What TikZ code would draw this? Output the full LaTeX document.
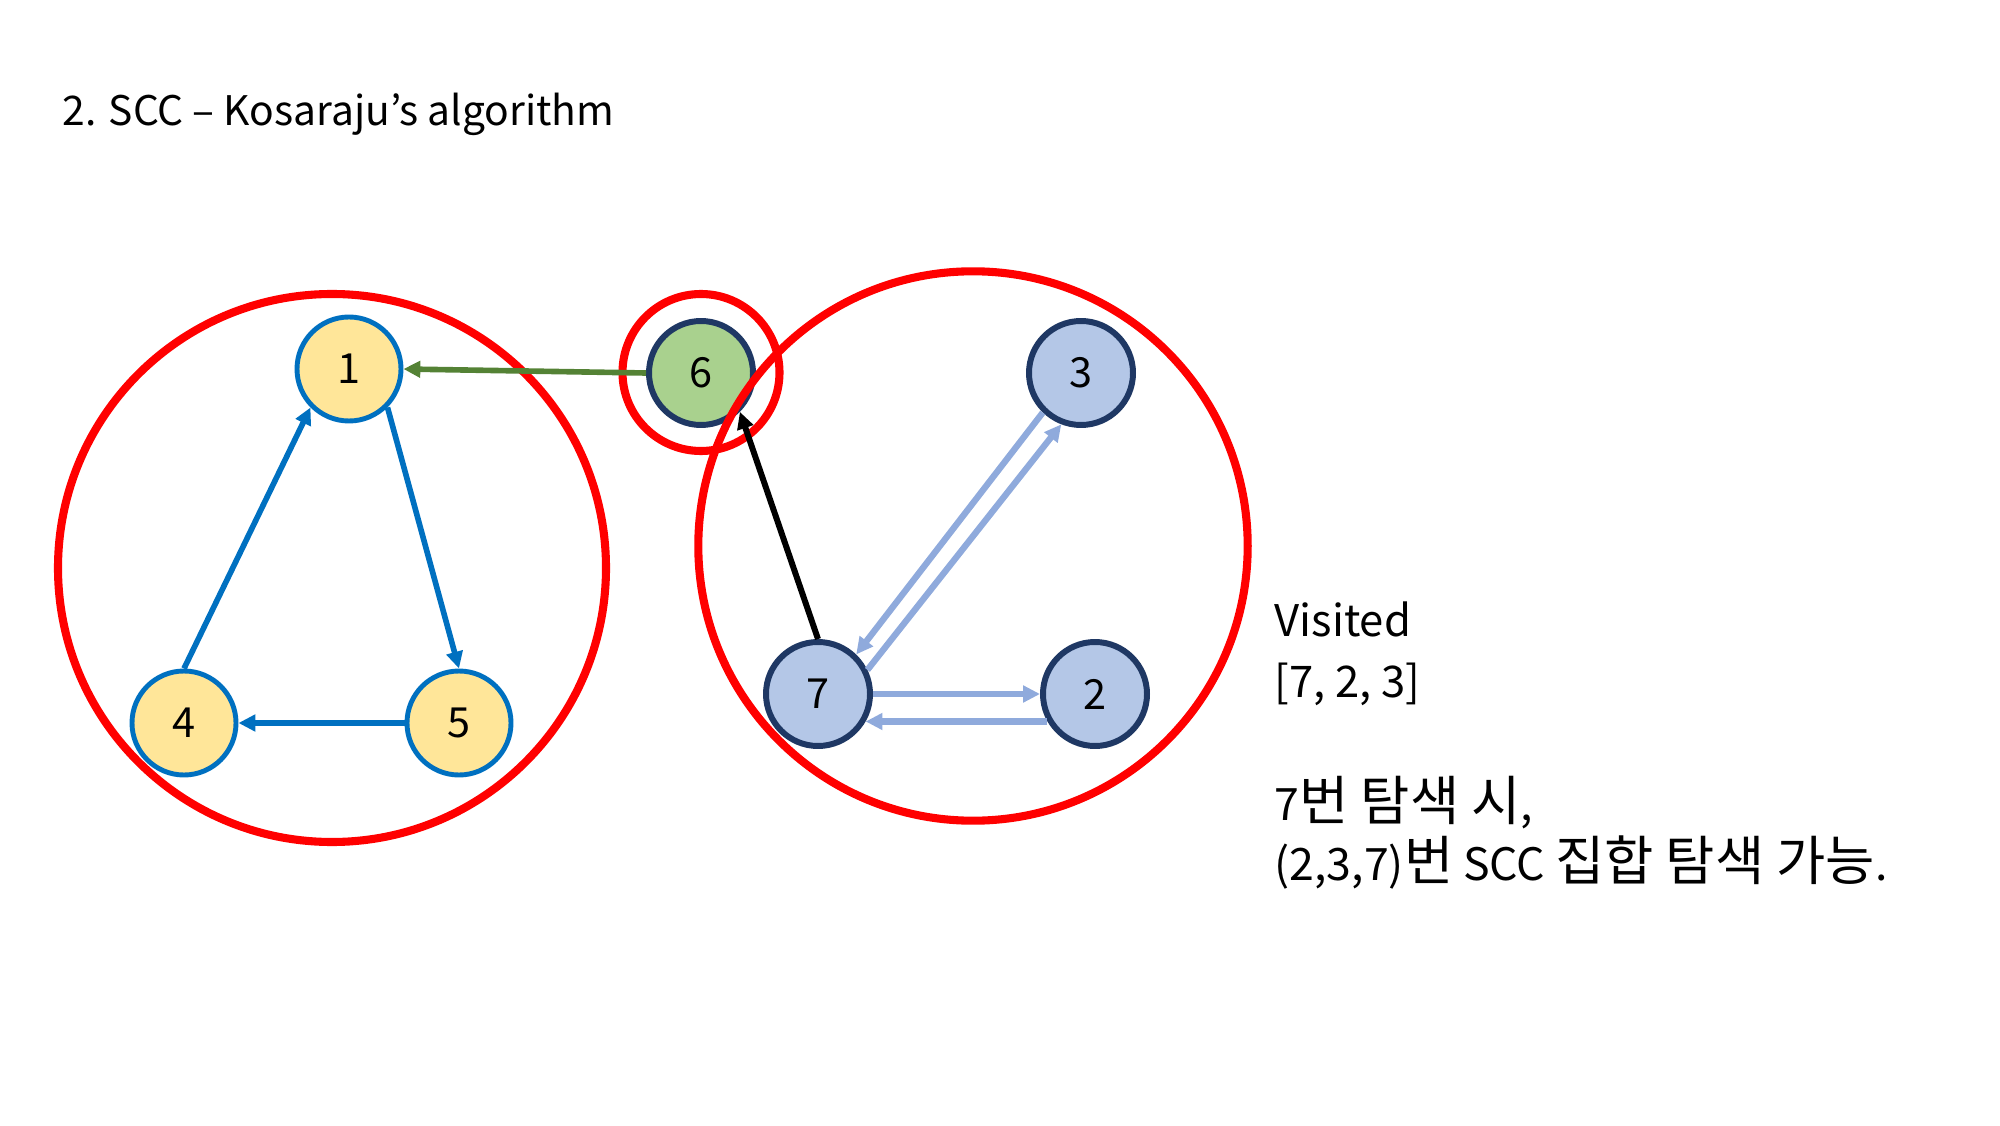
\documentclass[tikz,border=0pt]{standalone}
\usepackage{fontspec}
\setmainfont{Noto Sans CJK KR}
\newfontfamily\hangul{Noto Sans CJK KR}[Scale=1.2]
\newcommand{\kr}[1]{{\hangul #1}}
\usetikzlibrary{arrows.meta}

\definecolor{sccred}{HTML}{FF0000}
\definecolor{leafblue}{HTML}{0070C0}
\definecolor{leafyellow}{HTML}{FFE699}
\definecolor{navy}{HTML}{1F3864}
\definecolor{paleblue}{HTML}{B4C7E7}
\definecolor{edgeblue}{HTML}{8FAADC}
\definecolor{leafgreen}{HTML}{A9D18E}
\definecolor{darkgreen}{HTML}{548235}

\tikzset{
	vtx/.style={circle, minimum size=1.04cm, inner sep=0pt, font=\fontsize{11.8}{13}\selectfont},
	yellowvtx/.style={vtx, draw=leafblue, fill=leafyellow, line width=1.4pt},
	bluevtx/.style={vtx, draw=navy, fill=paleblue, line width=1.7pt},
	greenvtx/.style={vtx, draw=navy, fill=leafgreen, line width=1.7pt},
	sccring/.style={draw=sccred, line width=2.3pt},
	tip/.style={-{Triangle[length=4.8pt, width=4.6pt]}},
	treeedge/.style={tip, draw=leafblue, line width=1.6pt},
	crossedge/.style={tip, draw=darkgreen, line width=1.6pt},
	backedge/.style={tip, draw=black, line width=1.7pt},
	revedge/.style={tip, draw=edgeblue, line width=1.8pt},
	note/.style={anchor=base west, inner sep=0pt, font=\fontsize{12.4}{14}\selectfont}
}

\begin{document}
\begin{tikzpicture}
			%%%%% START %%%%%
			\useasboundingbox (0, 0) rectangle (20, 11.25);
			
			\node[anchor=base west, inner sep=0pt, font=\fontsize{11.6}{14}\selectfont] (title) at (0.62, 9.99) {2. SCC – Kosaraju’s algorithm};
			
			\node[yellowvtx] (n1) at (3.49, 7.56) {1};
			\node[yellowvtx] (n4) at (1.84, 4.02) {4};
			\node[yellowvtx] (n5) at (4.59, 4.02) {5};
			
			\node[greenvtx] (n6) at (7.01, 7.52) {6};
			
			\node[bluevtx] (n3) at (10.81, 7.52) {3};
			\node[bluevtx] (n7) at (8.18, 4.31) {7};
			\node[bluevtx] (n2) at (10.95, 4.31) {2};
			
			\draw[sccring] (3.32, 5.57) circle (2.74);
			\draw[sccring] (9.73, 5.79) circle (2.747);
			\draw[sccring] (7.01, 7.525) circle (0.785);
			
			\draw[treeedge] (n1.-45) -- (n5.north);
			\draw[treeedge] (n5.west) -- (n4.east);
			\draw[treeedge] (n4.north) -- (n1.-135);
			
			\draw[crossedge] (n6.west) -- (n1.east);
			\draw[backedge] (n7.north) -- (n6.-45);
			
			\draw[revedge] (n3.226) -- (n7.46);
			\draw[revedge] (n7.26) -- (n3.249);
			\draw[revedge] (n7.east) -- (n2.west);
			\draw[revedge] (n2.210) -- (n7.-30);
			
			\node[note] (visited) at (12.74, 4.88) {Visited};
			\node[note] (order) at (12.74, 4.28) {[7, 2, 3]};
			\node[note, font=\fontsize{12.7}{14}\selectfont] (start) at (12.74, 3.05) {7\kr{번 탐색 시},};
			\node[note, font=\fontsize{12.7}{14}\selectfont] (result) at (12.74, 2.45) {(2,3,7)\kr{번} SCC \kr{집합 탐색 가능}.};
			
			%%%%% END %%%%%
		\end{tikzpicture}
\end{document}
